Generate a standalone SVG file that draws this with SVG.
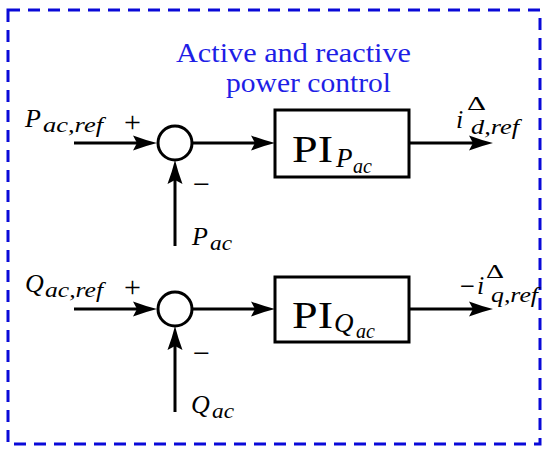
<svg xmlns="http://www.w3.org/2000/svg" width="550" height="454" viewBox="0 0 550 454">
<style>
text{font-family:'Liberation Serif','Times New Roman',Times,serif}
.t{fill:#000}
.m{font-size:26px;font-style:italic}
.s{font-size:20px;font-style:italic}
.u{font-size:30px}
.pi{font-size:37px}
.ttl{font-size:28px;fill:#1e1ee6}
.ln{stroke:#000;stroke-width:3;fill:none}
.nd{stroke:#000;stroke-width:3;fill:#fff}
</style>
<defs>
<marker id="ah" markerUnits="userSpaceOnUse" viewBox="-26 -9 28 18" refX="-8" refY="0" markerWidth="28" markerHeight="18" orient="auto" overflow="visible">
<path d="M0,0 Q-12,-3 -24,-7.5 L-20,0 L-24,7.5 Q-12,3 0,0 Z" fill="#000"/>
</marker>
</defs>
<rect x="8" y="10" width="532" height="434" fill="none" stroke="#0a0ad8" stroke-width="3" stroke-dasharray="12 8"/>
<text class="ttl" x="176" y="62" textLength="235" lengthAdjust="spacingAndGlyphs">Active and reactive</text>
<text class="ttl" x="226" y="92" textLength="165" lengthAdjust="spacingAndGlyphs">power control</text>
<g id="connectors">
<line class="ln" x1="74" y1="143" x2="149" y2="143" marker-end="url(#ah)"/>
<line class="ln" x1="192" y1="143" x2="267" y2="143" marker-end="url(#ah)"/>
<line class="ln" x1="409" y1="143" x2="485" y2="143" marker-end="url(#ah)"/>
<line class="ln" x1="175" y1="246" x2="175" y2="168" marker-end="url(#ah)"/>
<line class="ln" x1="74" y1="309" x2="149" y2="309" marker-end="url(#ah)"/>
<line class="ln" x1="192" y1="309" x2="267" y2="309" marker-end="url(#ah)"/>
<line class="ln" x1="409" y1="309" x2="485" y2="309" marker-end="url(#ah)"/>
<line class="ln" x1="175" y1="412" x2="175" y2="334" marker-end="url(#ah)"/>
</g>
<g id="sum1"><circle class="nd" cx="175" cy="143" r="17"/></g>
<g id="sum2"><circle class="nd" cx="175" cy="309" r="17"/></g>
<g id="piP">
<rect class="nd" x="275" y="110" width="134" height="67"/>
<text class="t pi" x="292" y="162" textLength="41" lengthAdjust="spacingAndGlyphs">PI</text>
<text class="t" x="336" y="167" style="font-size:27px;font-style:italic">P</text>
<text class="t" x="353" y="173" style="font-size:20px;font-style:italic">ac</text>
</g>
<g id="piQ">
<rect class="nd" x="275" y="277" width="134" height="65"/>
<text class="t pi" x="292" y="328" textLength="41" lengthAdjust="spacingAndGlyphs">PI</text>
<text class="t" x="334" y="332" style="font-size:27px;font-style:italic">Q</text>
<text class="t" x="356" y="338" style="font-size:20px;font-style:italic">ac</text>
</g>
<g id="labels">
<text class="t m" x="25" y="127">P</text>
<text class="t s" x="43" y="132" textLength="60" lengthAdjust="spacingAndGlyphs">ac,ref</text>
<text class="t u" x="124" y="132">+</text>
<text class="t u" x="193" y="194" textLength="17" lengthAdjust="spacingAndGlyphs">−</text>
<text class="t m" x="192" y="245">P</text>
<text class="t s" x="210" y="250" textLength="22" lengthAdjust="spacingAndGlyphs">ac</text>
<text class="t m" x="456" y="128">i</text>
<text class="t" x="467" y="110" style="font-size:18px" textLength="19" lengthAdjust="spacingAndGlyphs">Δ</text>
<text class="t s" x="471" y="134" textLength="48" lengthAdjust="spacingAndGlyphs">d,ref</text>
<text class="t m" x="25" y="292">Q</text>
<text class="t s" x="45" y="297" textLength="58" lengthAdjust="spacingAndGlyphs">ac,ref</text>
<text class="t u" x="124" y="297">+</text>
<text class="t u" x="193" y="363" textLength="17" lengthAdjust="spacingAndGlyphs">−</text>
<text class="t m" x="191" y="413">Q</text>
<text class="t s" x="212" y="418" textLength="22" lengthAdjust="spacingAndGlyphs">ac</text>
<text class="t u" x="460" y="296" textLength="15" lengthAdjust="spacingAndGlyphs">−</text>
<text class="t m" x="477" y="294">i</text>
<text class="t" x="486" y="278" style="font-size:18px" textLength="18" lengthAdjust="spacingAndGlyphs">Δ</text>
<text class="t s" x="491" y="302" textLength="47" lengthAdjust="spacingAndGlyphs">q,ref</text>
</g>
</svg>
